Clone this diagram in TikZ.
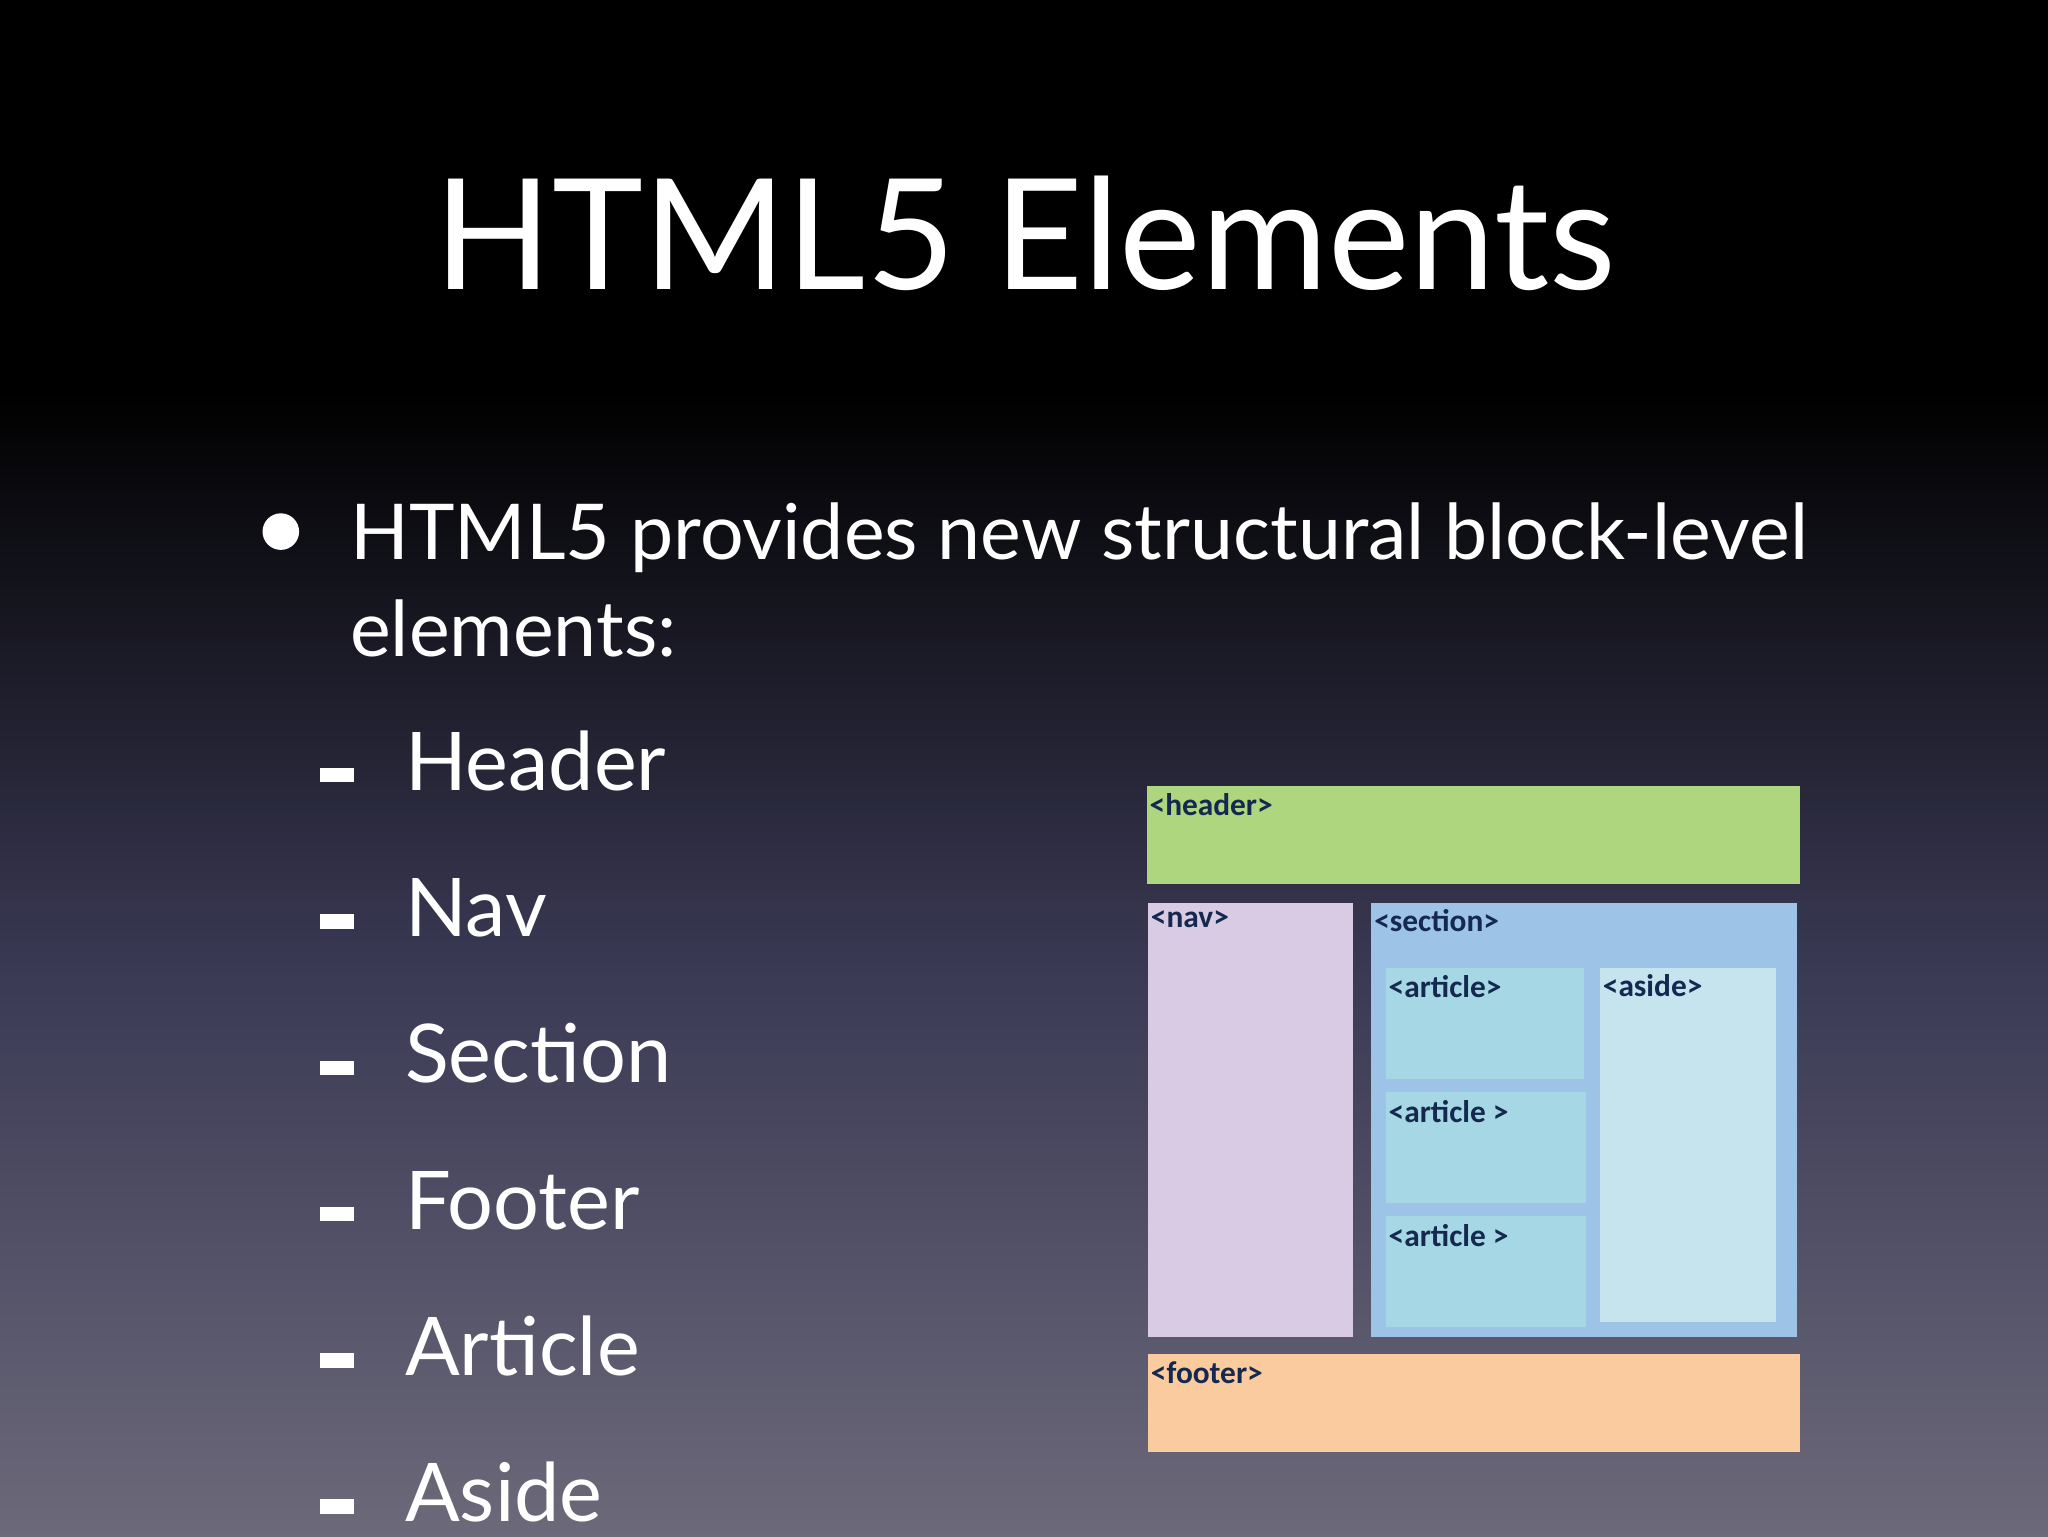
\documentclass[tikz,border=0pt]{standalone}
\usepackage{fontspec}
\setmainfont{Lato}
\newfontfamily\boxfont{Carlito}
\definecolor{lblc}{RGB}{20,40,80}
\begin{document}
\begin{tikzpicture}[x=1pt,y=-1pt,
  lbl/.style={anchor=north west,inner sep=2pt,font=\boxfont\bfseries\fontsize{24}{26}\selectfont,text=lblc},
  item/.style={anchor=base west,inner sep=0pt,text=white,font=\fontsize{62}{72}\selectfont}]
\useasboundingbox (0,0) rectangle (1568,1176);
\fill[black] (0,0) rectangle (1568,300);
\shade[top color=black,bottom color={rgb,255:red,58;green,57;blue,84}] (0,299) rectangle (1568,740);
\shade[top color={rgb,255:red,58;green,57;blue,84},bottom color={rgb,255:red,108;green,105;blue,122}] (0,739) rectangle (1568,1176);
\node[anchor=base,text=white,font=\fontsize{118}{130}\selectfont,inner sep=0pt] (title) at (785,222) {HTML5 Elements};
\fill[white] (215,407) circle (14);
\node[anchor=base west,inner sep=0pt,text=white,font=\fontsize{59}{70}\selectfont] (l1) at (268,428) {HTML5 provides new structural block-level};
\node[anchor=base west,inner sep=0pt,text=white,font=\fontsize{59}{70}\selectfont] (l2) at (268,503) {elements:};
\foreach \t [count=\i] in {Header,Nav,Section,Footer,Article,Aside}{
  \pgfmathsetmacro\yy{605+112*(\i-1)}
  \fill[white] (245,\yy-17) rectangle (271,\yy-6);
  \node[item] (it\i) at (310,\yy) {\t};
}
% diagram
\fill[fill={rgb,255:red,173;green,214;blue,127}] (878,602) rectangle (1378,677);
\node[lbl] (hdr) at (878,605) {<header>};
\fill[fill={rgb,255:red,217;green,203;blue,227}] (879,691) rectangle (1036,1024);
\node[lbl] (nav) at (879,695) {<nav>};
\fill[fill={rgb,255:red,157;green,195;blue,230}] (1050,691) rectangle (1376,1024);
\node[lbl] (sec) at (1050,694) {<section>};
\fill[fill={rgb,255:red,166;green,215;blue,228}] (1061,741) rectangle (1213,826);
\node[lbl] (a1) at (1061,745) {<article>};
\fill[fill={rgb,255:red,166;green,215;blue,228}] (1061,836) rectangle (1214,921);
\node[lbl] (a2) at (1061,840) {<article >};
\fill[fill={rgb,255:red,166;green,215;blue,228}] (1061,931) rectangle (1214,1016);
\node[lbl] (a3) at (1061,935) {<article >};
\fill[fill={rgb,255:red,197;green,228;blue,238}] (1225,741) rectangle (1360,1012);
\node[lbl] (as) at (1225,744) {<aside>};
\fill[fill={rgb,255:red,251;green,203;blue,160}] (879,1037) rectangle (1378,1112);
\node[lbl] (ft) at (879,1040) {<footer>};
\end{tikzpicture}
\end{document}
